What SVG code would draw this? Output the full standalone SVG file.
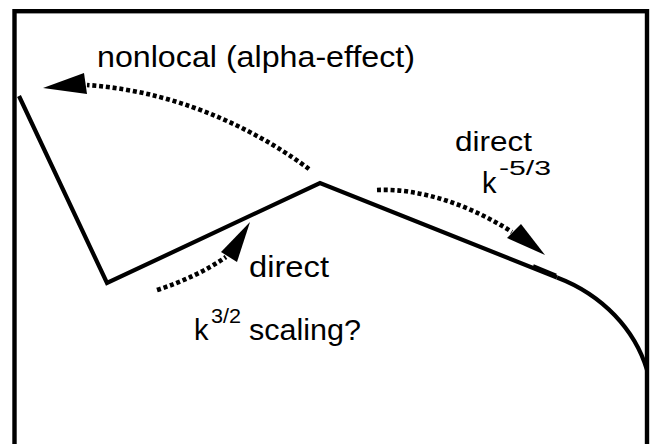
<svg xmlns="http://www.w3.org/2000/svg" width="651" height="444" viewBox="0 0 651 444">
<style>
.frame{fill:none;stroke:#000;stroke-width:4.4}
.solid{fill:none;stroke:#000;stroke-width:4.2;stroke-linejoin:miter;stroke-miterlimit:10}
.dot{fill:none;stroke:#000;stroke-width:4.6;stroke-dasharray:4 2.8}
.head{fill:#000;stroke:none}
.t{font-family:"Liberation Sans",Arial,Helvetica,sans-serif;font-size:29px;fill:#000}
.sup{font-family:"Liberation Sans",Arial,Helvetica,sans-serif;font-size:21px;fill:#000}
</style>
<rect width="651" height="444" fill="#fff"/>
<rect class="frame" x="14.5" y="11.2" width="632.5" height="460"/>
<g id="spectrum">
<polyline class="solid" points="19,96 107,283 320,183 557,277.5"/>
<path class="solid" d="M533,266.2 L556,275.8"/>
<path class="solid" d="M557,277.5 C603,295 635,330 647,370"/>
</g>
<g id="connectors">
<path class="dot" d="M309,169 C270,140 190,92 87,85"/>
<polygon class="head" points="43,88 84,73 87,94"/>
<path class="dot" d="M377,190 C420,188 470,205 512,232"/>
<polygon class="head" points="545,255 507,238 521,224"/>
<path class="dot" d="M157,290 Q197,277 226,257"/>
<polygon class="head" points="250,222 221,252 237,262"/>
</g>
<g id="label-nonlocal">
<text class="t" x="97" y="67" textLength="318" lengthAdjust="spacingAndGlyphs">nonlocal (alpha-effect)</text>
</g>
<g id="label-direct-right">
<text class="t" x="455" y="151" style="font-size:27px" textLength="77" lengthAdjust="spacingAndGlyphs">direct</text>
<text class="t" x="482" y="193">k</text>
<text class="sup" x="499" y="175" style="font-size:20px" textLength="52" lengthAdjust="spacingAndGlyphs">-5/3</text>
</g>
<g id="label-direct-lower">
<text class="t" x="249" y="277" textLength="80" lengthAdjust="spacingAndGlyphs">direct</text>
<text class="t" x="194" y="340">k</text>
<text class="sup" x="211" y="323" textLength="30" lengthAdjust="spacingAndGlyphs">3/2</text>
<text class="t" x="249" y="340" textLength="112" lengthAdjust="spacingAndGlyphs">scaling?</text>
</g>
</svg>
